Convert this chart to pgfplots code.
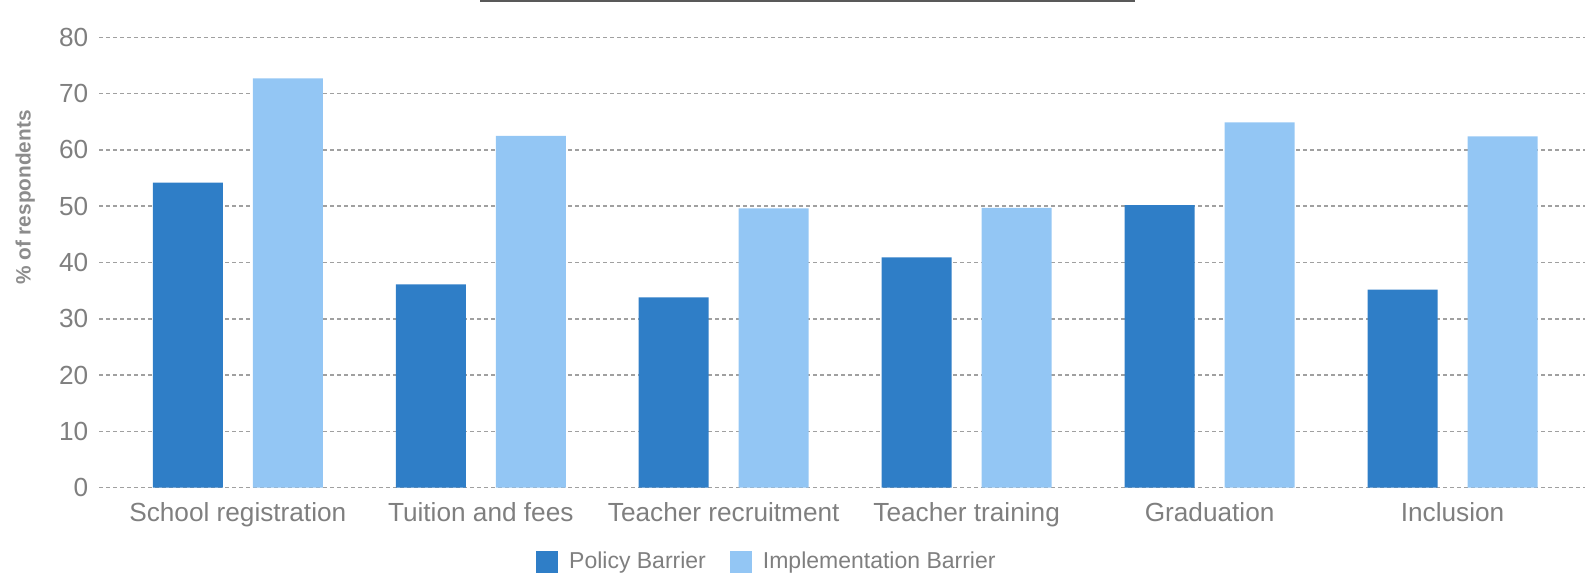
\documentclass[border=0pt]{standalone}
\usepackage{pgfplots}
\pgfplotsset{compat=1.18}
\usepackage{fontspec}
\setmainfont{Liberation Sans}
\definecolor{policy}{HTML}{2F7EC7}
\definecolor{impl}{HTML}{93C6F4}
\definecolor{txt}{HTML}{7F7F7F}
\definecolor{gridc}{HTML}{A0A0A0}
\begin{document}
\begin{tikzpicture}
\useasboundingbox (0,0) rectangle (792.5pt,288pt);
\draw[color=black!65, line width=1.3pt] (240pt,287.6pt) -- (567.5pt,287.6pt);
\begin{axis}[
  at={(49.65pt,44.15pt)}, anchor=south west,
  scale only axis, width=742.85pt, height=225.2pt,
  ybar=15pt, bar width=35pt,
  xmin=-0.57, xmax=5.545,
  ymin=0, ymax=80,
  ytick={0,10,...,80},
  xtick={0,1,2,3,4,5},
  xticklabels={School registration,Tuition and fees,Teacher recruitment,Teacher training,Graduation,Inclusion},
  axis line style={draw=none},
  major tick length=0pt,
  ymajorgrids,
  grid style={gridc, dash pattern=on 2pt off 1.5pt, line width=0.75pt},
  tick label style={font=\fontsize{13.1}{15}\selectfont, text=txt},
  yticklabel style={xshift=-2pt},
  xticklabel style={yshift=-4pt},
  /pgf/number format/assume math mode=true,
  ylabel={\textbf{\% of respondents}},
  ylabel style={font=\fontsize{10.4}{12}\selectfont, text=black!45, at={(axis description cs:-0.0498,0.644)}, anchor=center},
  legend style={at={(0.45,-0.165)}, anchor=center, draw=none, fill=none, font=\fontsize{11.5}{13}\selectfont, text=txt, legend columns=2,
    /tikz/every odd column/.append style={column sep=3.5pt},
    /tikz/every even column/.append style={column sep=10pt}},
  legend image code/.code={\fill[#1] (0pt,-5.5pt) rectangle (11pt,5.5pt);},
]
\addplot[fill=policy, draw=none] coordinates {(0,54.2) (1,36.1) (2,33.8) (3,40.9) (4,50.2) (5,35.2)};
\addplot[fill=impl, draw=none] coordinates {(0,72.7) (1,62.5) (2,49.6) (3,49.7) (4,64.9) (5,62.4)};
\legend{Policy Barrier, Implementation Barrier}
\end{axis}
\end{tikzpicture}
\end{document}
